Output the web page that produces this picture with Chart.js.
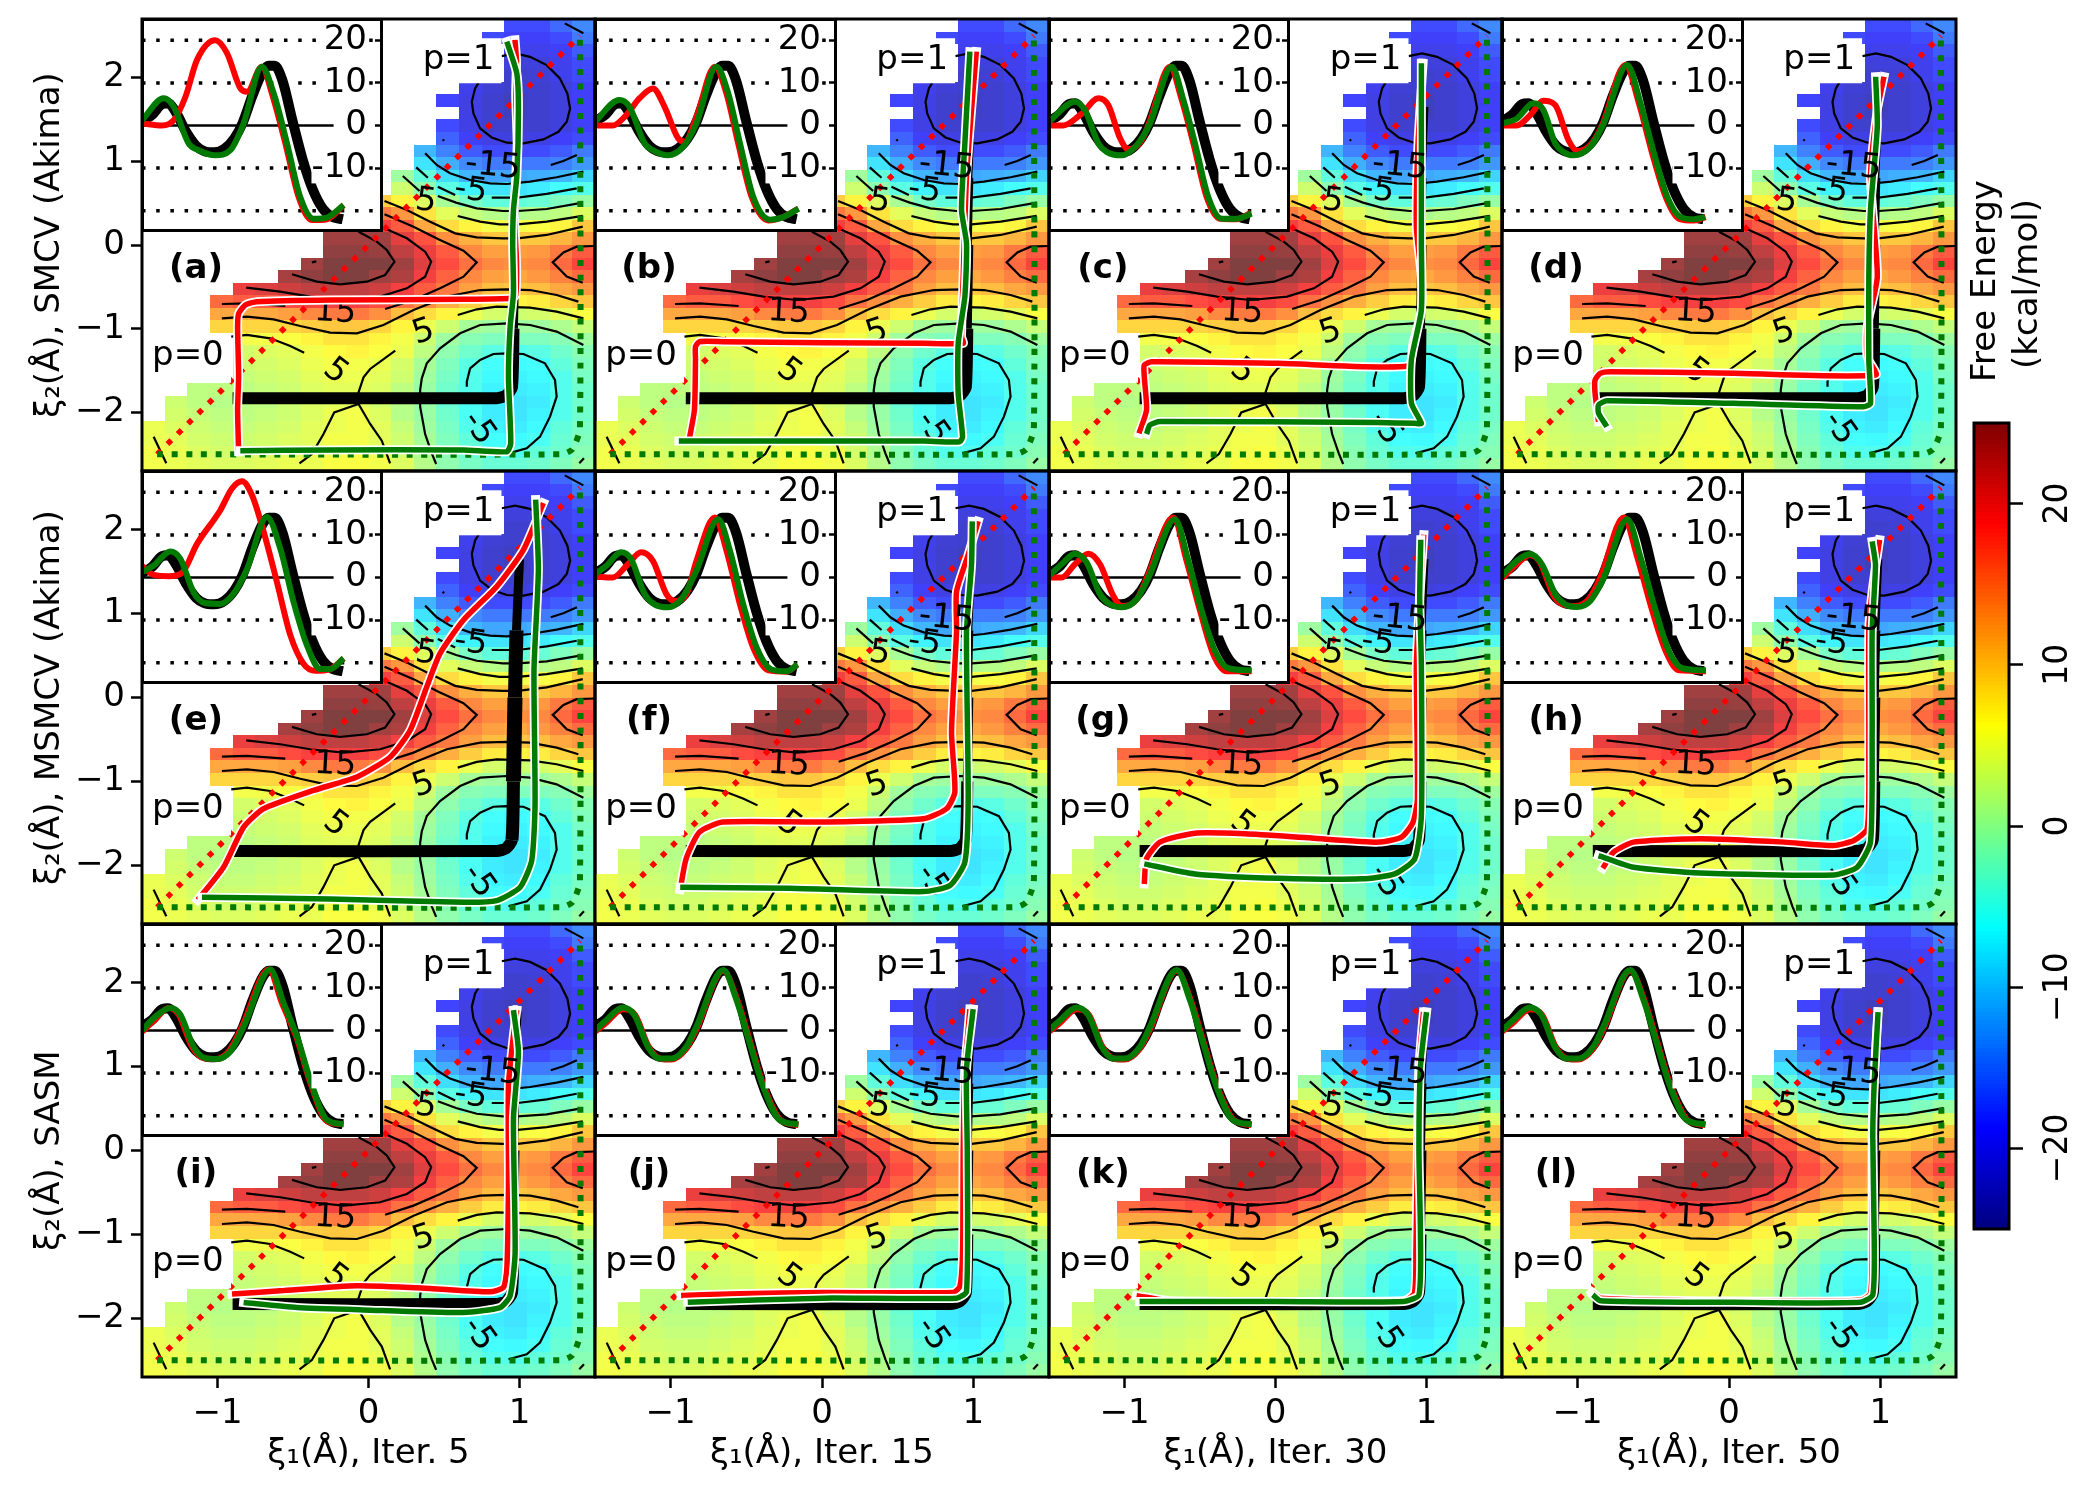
<!DOCTYPE html>
<html>
<head>
<meta charset="utf-8">
<title>Free energy panels</title>
<script src="https://cdn.jsdelivr.net/npm/chart.js@4/dist/chart.umd.js"></script>
<style>
  html, body { margin: 0; padding: 0; background: #fff; }
  #fig { position: relative; width: 2100px; height: 1497px; overflow: hidden; filter: blur(0.6px); }
  #fig canvas { position: absolute; }
  .cbTitle { position: absolute; font: 34px "DejaVu Sans"; color: #000; white-space: nowrap;
             transform: translate(-50%, -50%) rotate(-90deg); }
</style>
</head>
<body>
<div id="fig"></div>
<script>
const panelLetters = ['(a)','(b)','(c)','(d)','(e)','(f)','(g)','(h)','(i)','(j)','(k)','(l)'];
const xTitles = ['ξ₁(Å), Iter. 5','ξ₁(Å), Iter. 15','ξ₁(Å), Iter. 30','ξ₁(Å), Iter. 50'];
const yTitles = ['ξ₂(Å), SMCV (Akima)','ξ₂(Å), MSMCV (Akima)','ξ₂(Å), SASM'];
const xTicks = [-1, 0, 1];
const yTicks = [-2, -1, 0, 1, 2];
const insetTicks = [-10, 0, 10, 20];
const insetDots = [-20, -10, 10, 20];
const colorbarTicks = [-20, -10, 0, 10, 20];

// free energy cells, bottom row first, each row is right aligned to the last column
const heatRows = [
  [5.5,5,4.5,4,4,4.5,5,5,6,6,5.5,4,1.5,-1,-2.5,-3.5,-3.5,-3,-2,-.5],
  [5.5,5,4,3.5,3.5,4,4.5,5,5.5,6,5,3.5,1,-1.5,-3.5,-5,-5,-4,-3,-1.5],
  [5,4.5,3.5,3,3,3.5,4,4.5,5.5,5.5,4.5,3,.5,-2,-4,-6,-6.5,-5.5,-3.5,-2],
  [5,4,3,2.5,2.5,3,3.5,4.5,5,5.5,4.5,2.5,0,-2.5,-5,-7,-7.5,-6.5,-4,-2.5],
  [3.5,2.5,2,2,2.5,3,4,5,5.5,4,1.5,-.5,-3,-5.5,-7.5,-8,-7,-5,-3],
  [3,2,1.5,2,2,3,4,4.5,4.5,3.5,1.5,-.5,-3.5,-5.5,-7.5,-8,-7.5,-5,-3],
  [2,2,2,2.5,3,4,4.5,4.5,4,2,-.5,-3,-5,-7,-7.5,-7,-5,-3],
  [2.5,3,3.5,4.5,5,5,4.5,3,0,-2.5,-5,-6.5,-7,-6.5,-5,-2.5],
  [3,3.5,4,5,5.5,5.5,5,3.5,.5,-2,-4.5,-6,-6.5,-6,-4,-2],
  [3.5,4,4.5,5.5,6.5,7,6,5,2,-1,-3,-4.5,-5,-4.5,-3,-1.5],
  [5.5,5.5,6,7,8,8,7,5.5,3,0,-1.5,-2,-2,-2,-1.5,0],
  [9,9,9,9,9.5,10,10,9,7,5,3,.5,0,0,0,1,2.5],
  [12,12,12,12.5,14,15,15,13.5,10.5,8.5,7,5,3.5,3,3.5,4.5,6],
  [16,17,17,18,19,19.5,19.5,18,15.5,13.5,11.5,9.5,7.5,7,7.5,9,10],
  [20,21,22,23,23,23,22,19.5,17,15,12.5,10.5,10,10.5,12,13],
  [24.5,26,27,27,25,24,19.5,16.5,14,12.5,12,13,14.5,16],
  [25,27,27,27,25,21,18,15.5,14,13.5,14,16,18.5],
  [26,26,25.5,23,20,17,14,12.5,12.5,13,15,17],
  [25,25,25,20.5,17.5,13.5,11.5,10,10,10,11,13],
  [19.5,17,12,8.5,7,5.5,5.5,6,7,10],
  [15,13,8,4.5,2.5,1.5,1,1.5,2,4],
  [9.5,7,4,.5,-2.5,-4,-4,-3.5,-2,-.5],
  [3,-1,-4.5,-7,-8,-8,-7.5,-6,-5],
  [0,-4,-8.5,-11,-12,-12,-11.5,-11,-9],
  [-8,-11.5,-14,-15,-15,-15,-14.5,-13],
  [-11,-14.5,-17,-18,-18,-18,-17,-15],
  [-16.5,-19,-20.5,-21,-20.5,-19,-18],
  [-18,-20.5,-22,-22,-22,-21,-19],
  [-20.5,-22,-23,-22,-21,-19],
  [-18.5,-20.5,-22,-23,-22,-21,-19],
  [-20,-21.5,-22,-22,-21,-19],
  [-22,-21.5,-20,-18],
  [-21,-21,-20,-18],
  [-20,-20,-19,-17],
  [-18,-19,-19,-18,-15],
  [-18,-18,-16,-14]
];

// contour lines of the surface, [x, y]
const contours = [
  [[.882,2.256],[.971,2.288],[1.07,2.248],[1.18,2.149],[1.268,1.99],[1.317,1.81],[1.335,1.63],[1.313,1.472],[1.258,1.353],[1.158,1.262],[1.026,1.214],[.916,1.222],[.816,1.285],[.739,1.393],[.695,1.573],[.684,1.712],[.706,1.871],[.739,1.97]],
  [[1.207,.956],[1.29,1.004],[1.38,1.075]],
  [[.492,1.262],[.5,1.243]],
  [[.375,1.095],[.452,.956],[.54,.857],[.673,.777],[.805,.737],[.916,.729],[1.07,.757],[1.246,.809],[1.423,.877]],
  [[.316,.928],[.393,.804]],
  [[.459,.697],[.574,.597]],
  [[.816,.566],[.988,.566],[1.18,.61],[1.379,.677]],
  [[.227,.824],[.338,.645]],
  [[.459,.586],[.58,.506],[.717,.438],[.889,.406],[.988,.406],[1.18,.43],[1.419,.506]],
  [[.591,.347],[.739,.279],[.867,.247],[.988,.247],[1.18,.279],[1.419,.347]],
  [[.106,.526],[.254,.418],[.408,.279],[.574,.139],[.717,.092],[.889,.08],[.988,.08],[1.18,.12],[1.419,.219]],
  [[.106,.367],[.298,.219],[.463,.068],[.629,-.068],[.717,-.207],[.629,-.378],[.474,-.518],[.298,-.657],[.11,-.765]],
  [[-.971,-.705],[-.805,-.697],[-.551,-.729]],
  [[.106,.199],[.254,.08],[.375,-.08],[.415,-.199],[.375,-.378],[.254,-.518],[.077,-.617],[-.165,-.657],[-.386,-.617],[-.585,-.557],[-.81,-.51]],
  [[-.066,.159],[.055,.04],[.121,-.06],[.172,-.199],[.11,-.358],[-.011,-.438],[-.187,-.47],[-.342,-.438],[-.507,-.35]],
  [[-.375,-.207],[-.346,-.195]],
  [[1.494,-.012],[1.379,-.02],[1.291,-.088],[1.22,-.207],[1.313,-.378],[1.419,-.45]],
  [[-.971,-.876],[-.805,-.856],[-.629,-.888],[-.452,-.968],[-.254,-1.047],[-.077,-1.055],[.099,-.956],[.298,-.777],[.519,-.617],[.739,-.538],[.916,-.53],[1.07,-.538],[1.246,-.597],[1.39,-.677]],
  [[-.909,-1.095],[-.805,-1.075],[-.651,-1.115],[-.518,-1.207],[-.426,-1.286]],
  [[.591,-.836],[.717,-.768],[.849,-.737],[1.07,-.749],[1.246,-.796],[1.423,-.876]],
  [[.177,-1.262],[.011,-1.481],[-.033,-1.581],[-.066,-1.76],[-.066,-1.9],[.011,-2.138],[.088,-2.338],[.143,-2.608]],
  [[-.066,-1.9],[-.227,-2.0],[-.298,-2.258],[-.375,-2.497],[-.457,-2.608]],
  [[1.423,-1.195],[1.246,-1.035],[1.07,-.956],[.916,-.936],[.739,-.956],[.607,-1.055],[.474,-1.234],[.386,-1.414],[.353,-1.593],[.342,-1.732],[.342,-1.931],[.375,-2.258],[.419,-2.489],[.448,-2.616]],
  [[.651,-1.692],[.651,-1.633],[.673,-1.473],[.739,-1.374],[.827,-1.302],[.916,-1.294],[1.026,-1.302],[1.169,-1.414],[1.235,-1.613],[1.246,-1.812],[1.202,-2.051],[1.136,-2.29],[1.048,-2.429],[.927,-2.489]],
  [[1.3,2.648],[1.423,2.529]],
  [[-1.423,-2.29],[-1.339,-2.608]],
  [[1.396,-2.608],[1.427,-2.549]]
];
// text, x, y, rotation in degrees
const contourLabels = [
  ['-5',.677,.645,8],['5',.38,.518,8],['5',.364,-1.047,-18],
  ['15',-.22,-.808,3],['5',-.22,-1.513,38],['-5',.728,-2.19,55]
];
const topLabel = ['-15',.823,.936,6];

const diagonal = [[-1.4,-2.5],[1.4,2.5]];
const lowerEdge = [[-1.4,-2.5],[1.28,-2.5],[1.35,-2.44],[1.4,-2.2],[1.4,2.5]];
const blackPath = [[-.9,-1.83],[.85,-1.83],[.91,-1.8],[.95,-1.7],[.96,-1],[.97,0],[.98,.8],[1,1.65]];
const blackWidths = [12,12,12,12,9,6,4];
const blackWidthsE = [12,12,12,13,15,14,9];

const redA = [[-.86,-2.47],[-.867,-1.97],[-.86,-1.57],[-.867,-.98],[-.86,-.82],[-.816,-.717],[-.74,-.677],[-.25,-.657],[.63,-.649],[.95,-.637],[.975,-.6],[.98,-.2],[.965,.4],[.975,.8],[.985,1.2],[.975,1.8],[.98,2.2],[.97,2.45]];
const greenA = [[-.849,-2.457],[-.254,-2.449],[.629,-2.449],[.916,-2.469],[.942,-2.37],[.927,-1.573],[.938,-.976],[.96,-.577],[.955,.02],[.96,.418],[.982,.816],[.993,1.613],[.982,2.05],[.916,2.43]];
const redB = [[-.876,-2.31],[-.843,-1.97],[-.836,-1.374],[-.836,-1.215],[-.81,-1.155],[-.655,-1.155],[.007,-1.167],[.669,-1.175],[.933,-1.175],[.922,-1.095],[.933,-.378],[.955,.817],[.988,1.613],[1.02,2.31]];
const greenB = [[-.946,-2.342],[.007,-2.342],[.669,-2.342],[.911,-2.35],[.929,-2.29],[.9,-1.772],[.9,-1.175],[.944,-.617],[.955,.02],[.922,.418],[.944,1.215],[.977,2.31]];
const redC = [[-.904,-2.25],[-.854,-1.971],[-.869,-1.573],[-.869,-1.434],[-.821,-1.394],[.018,-1.414],[.878,-1.445],[.911,-1.175],[.966,-.776],[.966,-.378],[.933,.219],[.944,1.215],[.977,2.17]];
const greenC = [[-.854,-2.258],[-.832,-2.15],[-.765,-2.11],[.68,-2.122],[.922,-2.13],[.966,-2.13],[.9,-1.89],[.9,-1.374],[.966,-.776],[.966,.02],[.966,1.215],[.966,2.17]];
const redD = [[-.862,-2.11],[-.885,-1.772],[-.885,-1.613],[-.851,-1.533],[-.785,-1.513],[.031,-1.533],[.969,-1.553],[.913,-1.334],[.913,-.976],[.98,-.378],[.935,.817],[.98,1.613],[1.024,2.01]];
const greenD = [[-.807,-2.17],[-.862,-2.011],[-.862,-1.911],[-.807,-1.86],[.031,-1.892],[.891,-1.931],[.935,-1.892],[.924,-1.374],[.924,-.378],[.935,.418],[.98,1.414],[.969,2.01]];
const redE = [[-1.131,-2.413],[-.96,-2.023],[-.827,-1.545],[-.695,-1.326],[-.364,-1.107],[-.077,-.948],[.144,-.709],[.276,-.39],[.386,.128],[.474,.526],[.629,.924],[.849,1.322],[1.026,1.76],[1.158,2.318]];
const greenE = [[-1.103,-2.381],[-.254,-2.401],[.629,-2.441],[.849,-2.421],[1.004,-2.262],[1.081,-1.943],[1.103,-1.266],[1.096,.327],[1.125,1.522],[1.107,2.358]];
const redF = [[-.937,-2.29],[-.898,-1.923],[-.81,-1.605],[-.655,-1.485],[.007,-1.485],[.669,-1.445],[.823,-1.326],[.878,-1.127],[.856,-.41],[.889,.785],[.889,1.262],[.966,1.7],[1.032,2.1]];
const greenF = [[-.937,-2.262],[-.214,-2.274],[.669,-2.314],[.845,-2.242],[.944,-1.963],[.966,-1.207],[.955,.785],[.988,1.581],[.993,2.1]];
const redG = [[-.869,-2.222],[-.854,-1.923],[-.765,-1.724],[-.534,-1.617],[-.203,-1.625],[.238,-1.676],[.68,-1.724],[.834,-1.665],[.911,-1.485],[.94,-1.207],[.933,.386],[.955,1.183],[.982,1.94]];
const greenG = [[-.869,-1.983],[-.534,-2.103],[.018,-2.155],[.569,-2.162],[.79,-2.103],[.922,-1.923],[.966,-1.406],[.966,.386],[.955,1.183],[.962,1.88]];
const redH = [[-.834,-2.035],[-.763,-1.844],[-.631,-1.724],[-.19,-1.684],[.362,-1.724],[.693,-1.764],[.825,-1.704],[.913,-1.565],[.924,-.808],[.924,.785],[.946,1.262],[.995,1.88]];
const greenH = [[-.862,-1.884],[-.631,-2.023],[-.19,-2.091],[.693,-2.115],[.847,-2.023],[.935,-1.724],[.946,-.41],[.946,.785],[.968,1.581],[.946,1.86]];
const redI = [[-.904,-1.712],[-.585,-1.673],[-.077,-1.613],[.408,-1.645],[.805,-1.685],[.893,-1.633],[.916,-1.414],[.927,-.418],[.927,.777],[.96,1.374],[.982,1.673]];
const greenI = [[-.827,-1.812],[-.474,-1.872],[-.033,-1.9],[.629,-1.931],[.871,-1.872],[.938,-1.732],[.971,-1.215],[.96,.379],[.993,1.175],[.96,1.673]];
const redJ = [[-.931,-1.728],[-.545,-1.708],[.007,-1.692],[.867,-1.692],[.911,-1.621],[.929,-1.222],[.933,-.028],[.944,.968],[.966,1.446],[.977,1.685]];
const greenJ = [[-.887,-1.808],[.007,-1.76],[.889,-1.76],[.955,-1.68],[.96,-.028],[.955,.968],[.999,1.685]];
const redK = [[-.92,-1.73],[-.7,-1.79],[.85,-1.79],[.92,-1.7],[.93,-1.2],[.94,0],[.95,1],[.98,1.65]];
const greenK = [[-.9,-1.8],[0,-1.8],[.85,-1.8],[.95,-1.72],[.96,-1],[.95,0],[.96,1],[1,1.65]];
const redL = [[-.906,-1.686],[-.851,-1.76],[.031,-1.795],[.869,-1.786],[.935,-1.707],[.946,-1.14],[.946,.165],[.958,.818],[.984,1.654]];
const greenL = [[-.9,-1.72],[-.85,-1.79],[.03,-1.81],[.87,-1.81],[.95,-1.72],[.96,-1.1],[.95,.17],[.96,.82],[.985,1.65]];
const redPaths = [redA,redB,redC,redD,redE,redF,redG,redH,redI,redJ,redK,redL];
const greenPaths = [greenA,greenB,greenC,greenD,greenE,greenF,greenG,greenH,greenI,greenJ,greenK,greenL];

// energy along the path, inset of each panel, [p, kcal/mol]
const blackProfile = [[0,1],[.05,2.5],[.1,5],[.13,5.2],[.17,3],[.22,-1.5],[.27,-4.8],[.31,-6],[.36,-6.3],[.41,-5.5],[.46,-3],[.5,.5],[.55,7],[.6,12.5],[.63,14],[.66,14],[.7,10.5],[.75,1],[.8,-8],[.85,-15],[.9,-19.5],[.95,-21.5],[1,-22]];
const profGreenA = [[0,1.25],[.108,6.4],[.158,4.4],[.232,-4.2],[.282,-5.8],[.365,-7],[.44,-5.8],[.506,.5],[.597,13.8],[.656,7.5],[.722,-4.2],[.788,-16.8],[.855,-21.9],[.921,-21.6],[1.004,-18.7]];
const profRedA = [[0,.5],[.1,0],[.158,1.25],[.216,6.7],[.274,15.4],[.365,20],[.423,17],[.49,8.7],[.523,7.9],[.597,13.8],[.647,7.5],[.714,-4.2],[.78,-16.8],[.846,-22.2],[.921,-22],[1.004,-18.7]];
const profGreenB = [[0,.9],[.121,6],[.171,4.4],[.246,-4.2],[.287,-5.8],[.362,-7],[.437,-5],[.503,.5],[.602,13.8],[.661,7.5],[.719,-4.2],[.785,-16.8],[.868,-22.1],[.934,-21.5],[1.009,-19.5]];
const profRedB = [[0,0],[.088,0],[.154,2.4],[.221,6.4],[.287,8.7],[.345,4.4],[.412,-3],[.445,-3.8],[.503,2],[.594,13.8],[.652,7.5],[.71,-4.2],[.777,-16.8],[.86,-22.3],[.926,-21.6],[1.009,-19.5]];
const profGreenC = [[0,.9],[.129,5.6],[.179,3.6],[.246,-4.2],[.287,-6.2],[.362,-7],[.437,-4.6],[.503,.5],[.611,13.8],[.669,6],[.727,-4.2],[.793,-16.8],[.86,-21.9],[.934,-21.9],[1.009,-20.7]];
const profRedC = [[0,0],[.071,0],[.163,2.8],[.246,6.4],[.295,4.8],[.354,-3],[.395,-5.6],[.461,-3.5],[.503,1.2],[.602,13.8],[.661,6],[.719,-4.2],[.785,-16.8],[.851,-21.9],[.934,-22],[1.006,-20.5]];
const profGreenD = [[0,.5],[.073,1.6],[.156,5.2],[.206,3.6],[.264,-4.2],[.305,-6.2],[.355,-7],[.438,-5],[.505,.5],[.621,14.2],[.687,5.2],[.754,-6.6],[.82,-16.8],[.886,-21.5],[.953,-22],[1.006,-21.5]];
const profRedD = [[0,0],[.073,0],[.139,2.4],[.206,5.8],[.264,4.8],[.33,-3.5],[.375,-6],[.438,-4.6],[.496,0],[.612,14.2],[.679,5.2],[.745,-6.6],[.812,-16.8],[.878,-21.9],[.953,-22.3],[1.01,-21.5]];
const profGreenE = [[0,1.25],[.058,2.8],[.141,6.1],[.191,4.4],[.257,-3.5],[.315,-6],[.39,-6.2],[.456,-3.8],[.523,2],[.622,14.2],[.689,6.7],[.755,-5.8],[.822,-16],[.888,-21.5],[.938,-21.5],[1.004,-19]];
const profRedE = [[0,2.7],[.058,.6],[.133,.3],[.199,1.1],[.274,7.9],[.39,15.8],[.448,20.9],[.498,22.6],[.548,19.3],[.606,10.7],[.672,-1.1],[.739,-13.6],[.805,-20.3],[.863,-21.9],[.938,-21.5],[1.004,-19]];
const profGreenF = [[0,.8],[.055,2.7],[.129,5.9],[.179,4.3],[.246,-3.9],[.295,-6.3],[.362,-7],[.428,-5.1],[.503,1.6],[.611,13.7],[.669,6.3],[.735,-6.3],[.802,-16.5],[.876,-21.6],[.951,-22],[1.004,-20.4]];
const profRedF = [[0,.2],[.088,0],[.163,3.1],[.229,5.9],[.287,3.9],[.354,-3.9],[.395,-5.5],[.453,-3.9],[.503,3.9],[.594,14.1],[.652,6.3],[.719,-6.3],[.785,-16.5],[.86,-21.8],[.951,-22.1],[1.004,-20.4]];
const profGreenG = [[0,.4],[.063,3.1],[.129,5.6],[.188,3.5],[.254,-3.9],[.304,-6.3],[.362,-7],[.437,-5.1],[.503,.8],[.627,13.7],[.694,3.9],[.76,-7.8],[.827,-17.3],[.893,-21.3],[1.009,-21.8]];
const profRedG = [[0,0],[.063,0],[.129,3.1],[.196,5.6],[.254,3.1],[.32,-4.3],[.362,-6.7],[.437,-5.1],[.495,.8],[.619,14.1],[.685,3.9],[.752,-7.8],[.818,-18],[.885,-22],[1.009,-22]];
const profGreenH = [[0,.4],[.073,3.9],[.139,5.5],[.198,3.1],[.264,-3.9],[.314,-6.3],[.372,-6.9],[.438,-5.5],[.505,0],[.621,13.7],[.687,4.7],[.762,-7.8],[.828,-17.3],[.895,-21.3],[1.011,-21.8]];
const profRedH = [[0,-.2],[.073,3.1],[.139,5.3],[.189,3.5],[.256,-4.3],[.305,-6.4],[.364,-6.7],[.43,-5.1],[.488,0],[.604,14.1],[.671,4.7],[.745,-7.8],[.812,-17.3],[.878,-21.8],[1.011,-22]];
const profGreenI = [[0,0],[.058,2.9],[.141,5.3],[.191,3.7],[.257,-3.8],[.315,-6.5],[.373,-6.7],[.44,-4.9],[.506,.9],[.639,14.3],[.705,6.4],[.772,-1.4],[.838,-11.6],[.921,-21],[1.004,-22]];
const profRedI = [[0,-.3],[.058,2.2],[.133,5.3],[.183,3.7],[.249,-3.8],[.307,-6.5],[.365,-6.7],[.432,-4.9],[.498,.9],[.631,14.3],[.697,6.4],[.772,-2],[.838,-12.2],[.921,-21.3],[1.004,-22]];
const profGreenJ = [[0,0],[.055,2.4],[.138,5.4],[.196,3.6],[.262,-3.8],[.32,-6.6],[.378,-6.6],[.453,-3.8],[.503,.9],[.636,14.2],[.702,7.1],[.768,-3.1],[.835,-13.3],[.918,-21.1],[1.009,-22]];
const profRedJ = [[0,-.3],[.055,1.8],[.138,5],[.2,3.6],[.266,-3.8],[.324,-6.6],[.378,-6.8],[.453,-4.2],[.503,.3],[.636,14],[.706,7.1],[.772,-3.1],[.839,-13.3],[.922,-21.1],[1.009,-22.2]];
const greenProfiles = [profGreenA,profGreenB,profGreenC,profGreenD,profGreenE,profGreenF,profGreenG,profGreenH,profGreenI,profGreenJ,profGreenJ,profGreenJ];
const redProfiles = [profRedA,profRedB,profRedC,profRedD,profRedE,profRedF,profRedG,profRedH,profRedI,profRedJ,profRedJ,profRedJ];

const colLefts = [142, 595, 1049, 1502, 1956];
const rowTops = [19, 471, 924, 1377];
const FONT = '"DejaVu Sans"';
const fig = document.getElementById('fig');

function clamp(v) { return Math.max(0, Math.min(1, v)); }
function jet(v, alpha) {
    const t = (v + 25) / 50;
    const r = clamp(Math.min(4 * t - 1.5, -4 * t + 4.5));
    const g = clamp(Math.min(4 * t - 0.5, -4 * t + 3.5));
    const b = clamp(Math.min(4 * t + 0.5, -4 * t + 2.5));
    return `rgba(${Math.round(r * 255)},${Math.round(g * 255)},${Math.round(b * 255)},${alpha})`;
}
function minus(v) { return String(v).replace('-', '\u2212'); }
function pts(a) { return a.map(p => ({ x: p[0], y: p[1] })); }
function line(a, color, width, extra) {
    return Object.assign({ data: pts(a), showLine: true, pointRadius: 0, borderColor: color, borderWidth: width, tension: 0 }, extra || {});
}
function addCanvas(left, top, w, h) {
    const c = document.createElement('canvas');
    c.width = w; c.height = h;
    c.style.left = left + 'px'; c.style.top = top + 'px';
    fig.appendChild(c);
    return c.getContext('2d');
}
// later entries end up on top
function stack(list) { list.forEach((d, i) => { d.order = -i; }); return list; }

function drawLabel(chart, l, size) {
    const ctx = chart.ctx;
    ctx.save();
    ctx.fillStyle = '#000';
    ctx.font = `${size}px ${FONT}`;
    ctx.textAlign = 'center';
    ctx.textBaseline = 'middle';
    ctx.translate(chart.scales.x.getPixelForValue(l[1]), chart.scales.y.getPixelForValue(l[2]));
    ctx.rotate(l[3] * Math.PI / 180);
    ctx.fillText(l[0], 0, 0);
    ctx.restore();
}

const framePlugin = {
    id: 'frame',
    afterDraw(chart) {
        const a = chart.chartArea, ctx = chart.ctx;
        ctx.save();
        ctx.strokeStyle = '#000';
        ctx.lineWidth = 3;
        ctx.strokeRect(a.left, a.top, a.right - a.left, a.bottom - a.top);
        ctx.restore();
    }
};

const heatPlugin = {
    id: 'heat',
    beforeDatasetsDraw(chart) {
        const ctx = chart.ctx, sx = chart.scales.x, sy = chart.scales.y;
        heatRows.forEach((row, j) => {
            const y0 = Math.round(sy.getPixelForValue(-2.7 + 0.15 * j));
            const y1 = Math.round(sy.getPixelForValue(-2.7 + 0.15 * (j + 1)));
            row.forEach((v, k) => {
                const col = 20 - row.length + k;
                const x0 = Math.round(sx.getPixelForValue(-1.5 + 0.15 * col));
                const x1 = Math.round(sx.getPixelForValue(-1.5 + 0.15 * (col + 1)));
                ctx.fillStyle = jet(v, 0.75);
                ctx.fillRect(x0, y1, x1 - x0, y0 - y1);
            });
        });
    },
    // contour labels sit over the black path but under the red and green ones
    afterDatasetDraw(chart, args) {
        if (args.index !== contours.length + 2) return;
        contourLabels.forEach(l => drawLabel(chart, l, 33));
    }
};

function notesPlugin(i) {
    return {
        id: 'notes',
        afterDatasetsDraw(chart) {
            const ctx = chart.ctx, sx = chart.scales.x, sy = chart.scales.y;
            // the -15 stays readable over the paths, only the thick string of (e) hides it
            if (i !== 4) drawLabel(chart, topLabel, 34);
            ctx.save();
            ctx.textAlign = 'center';
            ctx.textBaseline = 'middle';
            ctx.fillStyle = '#fff';
            ctx.fillRect(sx.getPixelForValue(.364), sy.getPixelForValue(2.47), 78, 45);
            ctx.fillRect(sx.getPixelForValue(-1.44), sy.getPixelForValue(-1.12), 80, 44);
            ctx.fillStyle = '#000';
            ctx.font = `34px ${FONT}`;
            ctx.fillText('p=1', sx.getPixelForValue(.596), sy.getPixelForValue(2.21));
            ctx.fillText('p=0', sx.getPixelForValue(-1.196), sy.getPixelForValue(-1.334));
            ctx.font = `bold 34px ${FONT}`;
            ctx.fillText(panelLetters[i], sx.getPixelForValue(-1.143), sy.getPixelForValue(-.283));
            ctx.restore();
        }
    };
}

function fitScale(size) {
    return function (s) {
        if (s.isHorizontal()) { s.height = size; } else { s.width = size; }
        s.paddingTop = s.paddingBottom = s.paddingLeft = s.paddingRight = 0;
    };
}

function drawPanel(i) {
    const col = i % 4, row = Math.floor(i / 4);
    const pl = colLefts[col], pr = colLefts[col + 1], pt = rowTops[row], pb = rowTops[row + 1];
    const showY = col === 0, showX = row === 2;
    const left = showY ? 0 : pl - 2;
    const top = pt - 2;
    const w = pr + 2 - left;
    const h = (showX ? 1497 : pb + 2) - top;
    const ctx = addCanvas(left, top, w, h);
    const widths = i === 4 ? blackWidthsE : blackWidths;

    const datasets = contours.map(c => line(c, '#000', 2.2));
    datasets.push(line(diagonal, '#ff0000', 5.5, { borderDash: [5.5, 9] }));
    datasets.push(line(lowerEdge, '#007a00', 6, { borderDash: [6, 8.67], tension: 0.2 }));
    datasets.push(line(blackPath, '#000', 12, { tension: 0.2, segment: { borderWidth: c => widths[c.p0DataIndex] } }));
    datasets.push(line(redPaths[i], '#fff', 9, { tension: 0.2, borderCapStyle: 'square' }));
    datasets.push(line(redPaths[i], '#ff0000', 5.5, { tension: 0.2 }));
    datasets.push(line(greenPaths[i], '#fff', 9, { tension: 0.2, borderCapStyle: 'square' }));
    datasets.push(line(greenPaths[i], '#007a00', 5.5, { tension: 0.2 }));

    new Chart(ctx, {
        type: 'scatter',
        data: { datasets: stack(datasets) },
        options: {
            responsive: false,
            animation: false,
            layout: { padding: { left: 2, top: 2, right: 2, bottom: 2 } },
            plugins: { legend: { display: false }, tooltip: { enabled: false } },
            scales: {
                x: {
                    min: -1.5, max: 1.5, display: showX,
                    afterBuildTicks: s => { s.ticks = xTicks.map(v => ({ value: v })); },
                    afterFit: fitScale(showX ? 118 : 0),
                    border: { display: false },
                    grid: { drawOnChartArea: false, tickLength: 11, tickWidth: 2.5, tickColor: '#000' },
                    ticks: { color: '#000', font: { family: 'DejaVu Sans', size: 34 }, padding: 6, maxRotation: 0, callback: minus },
                    title: { display: showX, text: xTitles[col], color: '#000', font: { family: 'DejaVu Sans', size: 34 }, padding: { top: 0, bottom: 20 } }
                },
                y: {
                    min: -2.7, max: 2.7, display: showY,
                    afterBuildTicks: s => { s.ticks = yTicks.map(v => ({ value: v })); },
                    afterFit: fitScale(showY ? 140 : 0),
                    border: { display: false },
                    grid: { drawOnChartArea: false, tickLength: 11, tickWidth: 2.5, tickColor: '#000' },
                    ticks: { color: '#000', font: { family: 'DejaVu Sans', size: 34 }, padding: 6, callback: minus },
                    title: { display: showY, text: yTitles[row], color: '#000', font: { family: 'DejaVu Sans', size: 34 }, padding: { top: 28, bottom: 0 } }
                }
            }
        },
        plugins: [heatPlugin, notesPlugin(i), framePlugin]
    });

    // inset with the energy profile
    const ictx = addCanvas(pl, pt, Math.round((pr - pl) * 0.5325), 213);
    const inset = insetDots.map(v => line([[0, v], [1.2, v]], '#000', 3.5, { borderDash: [3.5, 10.7] }));
    inset.push(line([[0, 0], [.954, 0]], '#000', 2.5));
    inset.push(line(blackProfile, '#000', 10, { cubicInterpolationMode: 'monotone' }));
    inset.push(line(redProfiles[i], '#ff0000', 6, { cubicInterpolationMode: 'monotone' }));
    inset.push(line(greenProfiles[i], '#007a00', 6, { cubicInterpolationMode: 'monotone' }));
    new Chart(ictx, {
        type: 'scatter',
        data: { datasets: stack(inset) },
        options: {
            responsive: false,
            animation: false,
            plugins: { legend: { display: false }, tooltip: { enabled: false } },
            scales: {
                x: { min: 0, max: 1.2, display: false, afterFit: fitScale(0) },
                y: {
                    min: -25, max: 25, position: 'right',
                    afterBuildTicks: s => { s.ticks = insetTicks.map(v => ({ value: v })); },
                    afterFit: fitScale(0),
                    border: { display: false },
                    grid: { drawOnChartArea: false, tickLength: -8, tickWidth: 2.5, tickColor: '#000' },
                    ticks: { z: 1, mirror: true, padding: -16, color: '#000', font: { family: 'DejaVu Sans', size: 34, lineHeight: 0.9 },
                             showLabelBackdrop: true, backdropColor: '#fff', backdropPadding: 0, callback: v => String(v) }
                }
            }
        },
        plugins: [{
            id: 'paper',
            beforeDraw(chart) {
                chart.ctx.fillStyle = '#fff';
                chart.ctx.fillRect(0, 0, chart.width, chart.height);
            }
        }, {
            id: 'insetFrame',
            afterDraw(chart) {
                const c = chart.ctx;
                c.strokeStyle = '#000';
                c.lineWidth = 3;
                c.strokeRect(0.5, 0.5, chart.width - 2, chart.height - 2);
            }
        }]
    });
}

for (let i = 0; i < 12; i++) {
    drawPanel(i);
}

// colour bar
new Chart(addCanvas(1970, 420, 130, 812), {
    type: 'scatter',
    data: { datasets: [] },
    options: {
        responsive: false,
        animation: false,
        layout: { padding: { left: 4, top: 3, bottom: 3 } },
        plugins: { legend: { display: false }, tooltip: { enabled: false } },
        scales: {
            x: { display: false, min: 0, max: 1, afterFit: fitScale(0) },
            y: {
                min: -25, max: 25, position: 'right',
                afterBuildTicks: s => { s.ticks = colorbarTicks.map(v => ({ value: v })); },
                afterFit: fitScale(91),
                border: { display: false },
                grid: { drawOnChartArea: false, tickLength: 14, tickWidth: 2.5, tickColor: '#000' },
                ticks: { color: '#000', font: { family: 'DejaVu Sans', size: 33 }, padding: 1, minRotation: 90, maxRotation: 90, crossAlign: 'center', callback: minus }
            }
        }
    },
    plugins: [{
        id: 'ramp',
        beforeDatasetsDraw(chart) {
            const a = chart.chartArea, sy = chart.scales.y, c = chart.ctx;
            for (let v = -25; v < 25; v += 0.25) {
                const y1 = sy.getPixelForValue(v), y0 = sy.getPixelForValue(v + 0.25);
                c.fillStyle = jet(v + 0.125, 1);
                c.fillRect(a.left, y0 - 0.5, a.right - a.left, y1 - y0 + 1);
            }
        }
    }, framePlugin]
});

[['Free Energy', 1983, 281], ['(kcal/mol)', 2025, 284]].forEach(t => {
    const d = document.createElement('div');
    d.className = 'cbTitle';
    d.textContent = t[0];
    d.style.left = t[1] + 'px';
    d.style.top = t[2] + 'px';
    fig.appendChild(d);
});
</script>
</body>
</html>
